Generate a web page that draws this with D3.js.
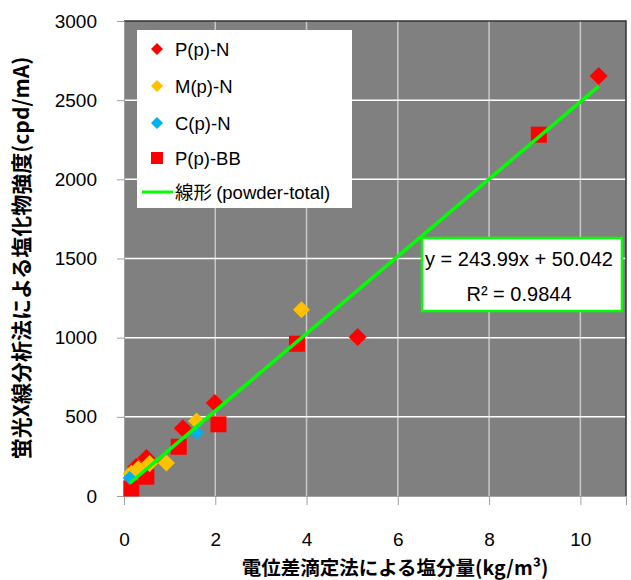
<!DOCTYPE html>
<html>
<head>
<meta charset="utf-8">
<script src="https://cdn.jsdelivr.net/npm/d3@7"></script>
<style>
body { margin: 0; background: #fff; }
text { font-family: "Liberation Sans", Arial, sans-serif; }
.jp { font-family: "Noto Sans CJK JP", "Liberation Sans", sans-serif; }
</style>
</head>
<body>
<div id="chart"></div>
<script>
// series values: [x, y]
var ppN  = [[10.4, 2652], [5.12, 1005], [1.99, 588], [1.29, 428], [0.49, 240], [0.27, 185]];
var mpN  = [[3.89, 1176], [1.59, 474], [0.93, 208], [0.56, 206], [0.31, 172], [0.16, 143]];
var cpN  = [[1.6, 400], [0.125, 114]];
var ppBB = [[9.09, 2282], [3.79, 962], [2.07, 453], [1.2, 311], [0.49, 122], [0.16, 48]];

var slope = 243.99, intercept = 50.042;
var eqText = "y = 243.99x + 50.042", r2Text = "R\u00b2 = 0.9844";

var xTicks = [0, 2, 4, 6, 8, 10];
var yTicks = [0, 500, 1000, 1500, 2000, 2500, 3000];
var legendNames = ["P(p)-N", "M(p)-N", "C(p)-N", "P(p)-BB", "(powder-total)"];

var width = 631, height = 580;
var pLeft = 124, pRight = 626, pTop = 21, pBottom = 496;

var x = d3.scaleLinear().domain([0, 11]).range([pLeft, pRight]);
var y = d3.scaleLinear().domain([0, 3000]).range([pBottom, pTop]);

var svg = d3.select("#chart").append("svg")
	.attr("width", width)
	.attr("height", height);

svg.append("rect")
	.attr("x", pLeft).attr("y", pTop)
	.attr("width", pRight - pLeft).attr("height", pBottom - pTop)
	.attr("fill", "#808080");

// grid
svg.selectAll("line.vg").data(xTicks.slice(1)).enter().append("line")
	.attr("class", "vg")
	.attr("x1", function(d){return x(d)}).attr("x2", function(d){return x(d)})
	.attr("y1", pTop).attr("y2", pBottom)
	.attr("stroke", "#c8c8c8").attr("stroke-width", 1.5);
svg.selectAll("line.hg").data(yTicks.slice(1, -1)).enter().append("line")
	.attr("class", "hg")
	.attr("x1", pLeft).attr("x2", pRight)
	.attr("y1", function(d){return y(d)}).attr("y2", function(d){return y(d)})
	.attr("stroke", "#ffffff").attr("stroke-width", 1.5);

// border top/right
svg.append("path")
	.attr("d", "M" + pLeft + "," + pTop + "H" + pRight + "V" + pBottom)
	.attr("fill", "none").attr("stroke", "#333").attr("stroke-width", 1.5);

// axes
var xAxis = svg.append("g")
	.attr("transform", "translate(0," + pBottom + ")")
	.call(d3.axisBottom(x).tickValues(xTicks).tickSize(9).tickPadding(28).tickFormat(d3.format("d")));
var yAxis = svg.append("g")
	.attr("transform", "translate(" + pLeft + ",0)")
	.call(d3.axisLeft(y).tickValues(yTicks).tickSize(7).tickPadding(20).tickFormat(d3.format("d")));
[xAxis, yAxis].forEach(function(a) {
	a.select(".domain").attr("stroke", "#a0a0a0");
	a.selectAll(".tick line").attr("stroke", "#a0a0a0");
	a.selectAll(".tick text").attr("font-size", 19).attr("fill", "#000")
		.attr("font-family", "Liberation Sans, Arial, sans-serif");
});

var xs = ppN.concat(mpN, cpN, ppBB).map(function(d){return d[0]});
var x0 = d3.min(xs), x1 = d3.max(xs);

function diamond(r) {
	return "M0," + (-r) + "L" + r + ",0L0," + r + "L" + (-r) + ",0Z";
}

function drawDiamonds(dat, col, r) {
	svg.append("g").selectAll("path").data(dat).enter().append("path")
		.attr("d", diamond(r))
		.attr("transform", function(d){return "translate(" + x(d[0]) + "," + y(d[1]) + ")"})
		.attr("fill", col);
}

svg.append("g").selectAll("rect").data(ppBB).enter().append("rect")
	.attr("x", function(d){return x(d[0]) - 8}).attr("y", function(d){return y(d[1]) - 8})
	.attr("width", 16).attr("height", 16)
	.attr("fill", "#ff0000");
drawDiamonds(ppN, "#ff0000", 9);
drawDiamonds(mpN, "#ffc000", 8.5);
drawDiamonds(cpN, "#00b0f0", 7);

// regression line on top of the markers
svg.append("line")
	.attr("x1", x(x0)).attr("y1", y(slope * x0 + intercept))
	.attr("x2", x(x1)).attr("y2", y(slope * x1 + intercept))
	.attr("stroke", "#00ff00").attr("stroke-width", 3.5);

// legend
var lg = svg.append("g");
lg.append("rect").attr("x", 137).attr("y", 30).attr("width", 215).attr("height", 178)
	.attr("fill", "#fff");
var legendCols = ["#ff0000", "#ffc000", "#00b0f0", "#ff0000", "#00ff00"];
var rowY = [49, 86, 123, 158, 192];
legendNames.forEach(function(n, i) {
	var cy = rowY[i];
	if (i < 3) {
		lg.append("path").attr("d", diamond(6)).attr("transform", "translate(157," + cy + ")")
			.attr("fill", legendCols[i]);
	} else if (i == 3) {
		lg.append("rect").attr("x", 151).attr("y", cy - 6).attr("width", 12).attr("height", 12)
			.attr("fill", legendCols[i]);
	} else {
		lg.append("line").attr("x1", 142).attr("x2", 173).attr("y1", cy).attr("y2", cy)
			.attr("stroke", legendCols[i]).attr("stroke-width", 3);
	}
	var t = lg.append("text").attr("x", 175).attr("y", cy + 7).attr("font-size", 18.5);
	if (i == 4) {
		t.append("tspan").attr("class", "jp").text("\u7dda\u5f62 ");
		t.append("tspan").text(n);
	} else {
		t.text(n);
	}
});

// equation box
var eq = svg.append("g");
eq.append("rect").attr("x", 422).attr("y", 238).attr("width", 200).attr("height", 73)
	.attr("fill", "#fff").attr("stroke", "#00ff00").attr("stroke-width", 2.5);
eq.append("text").attr("x", 519).attr("y", 266).attr("text-anchor", "middle")
	.attr("font-size", 20).text(eqText);
eq.append("text").attr("x", 519).attr("y", 301).attr("text-anchor", "middle")
	.attr("font-size", 20).text(r2Text);

// axis titles
svg.append("text").attr("class", "jp")
	.attr("x", 395).attr("y", 575).attr("text-anchor", "middle")
	.attr("font-size", 19.5).attr("font-weight", "bold")
	.text("\u96fb\u4f4d\u5dee\u6ef4\u5b9a\u6cd5\u306b\u3088\u308b\u5869\u5206\u91cf(kg/m\u00b3)");
svg.append("text").attr("class", "jp")
	.attr("transform", "translate(29,258) rotate(-90)")
	.attr("text-anchor", "middle")
	.attr("font-size", 21).attr("font-weight", "bold")
	.text("\u86cd\u5149X\u7dda\u5206\u6790\u6cd5\u306b\u3088\u308b\u5869\u5316\u7269\u5f37\u5ea6(cpd/mA)");
</script>
</body>
</html>
